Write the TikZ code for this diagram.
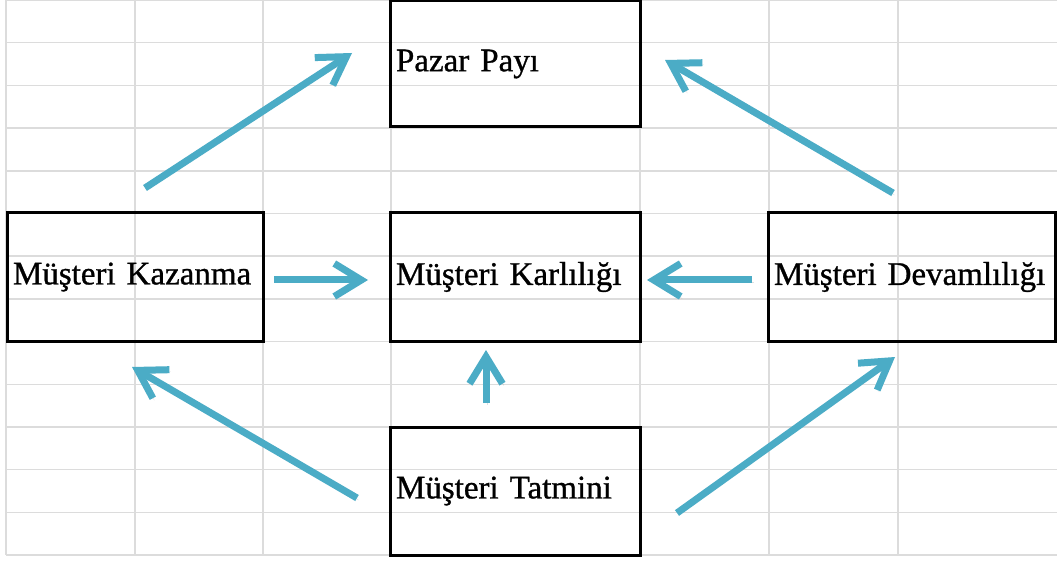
\documentclass[tikz,border=0pt]{standalone}
\usepackage{fontspec}
\newfontfamily\cellfont{Liberation Serif}[FakeBold=0.9]
\usetikzlibrary{arrows.meta}
\definecolor{SheetAqua}{HTML}{4BACC6}
\definecolor{SheetGrid}{HTML}{DCDCDC}

\begin{document}
\begin{tikzpicture}[x=1pt, y=-1pt,
    cell/.style={draw, line width=3pt, minimum height=128pt, inner xsep=6pt,
        text width=#1, align=left, font=\cellfont\fontsize{33}{38}\selectfont},
    flow/.style={draw=SheetAqua, line width=7pt,
        -{Straight Barb[length=27pt, width=33pt, line cap=butt, line join=miter]},
        preaction={draw=black, opacity=0.12, transform canvas={shift={(1.5pt,-2pt)}}}}]
    % Sheet background
    \fill[white] (0,0) rectangle (1057,561);
    \useasboundingbox (0,0) rectangle (1057,561);

    % Grid
    \foreach \i in {0,...,13}
        \draw[SheetGrid, line width=1.5pt] (6,{\i*42.7}) -- (1057,{\i*42.7});
    \foreach \x in {6,135,263,391,640,769,898}
        \draw[SheetGrid, line width=1.5pt] (\x,0) -- (\x,555);

    % Boxes
    \node[cell=238pt, minimum height=126pt] (pazar) at (515,64) {Pazar Payı};
    \node[cell=244pt] (kazanma) at (135,277) {Müşteri Kazanma};
    \node[cell=238pt] (karlilik) at (515,277) {Müşteri Karlılığı};
    \node[cell=275pt] (devam) at (911.5,277) {Müşteri Devamlılığı};
    \node[cell=238pt] (tatmin) at (515,491) {Müşteri Tatmini};

    % Free arrow ends
    \coordinate (kazUp) at (145,188);
    \coordinate (pazarLeft) at (352,53);
    \coordinate (devUp) at (893,193);
    \coordinate (pazarRight) at (665,60);
    \coordinate (tatLeft) at (357,498);
    \coordinate (kazDown) at (132,367);
    \coordinate (tatRight) at (677,513);
    \coordinate (devDown) at (895,357);

    % Arrows
    \draw[flow] (kazUp) -- (pazarLeft);
    \draw[flow] (devUp) -- (pazarRight);
    \draw[flow, shorten <=9.5pt, shorten >=20.5pt] ([yshift=-3pt]kazanma.east) -- ([yshift=-3pt]karlilik.west);
    \draw[flow, shorten <=14.5pt, shorten >=5.5pt] ([yshift=-3pt]devam.west) -- ([yshift=-3pt]karlilik.east);
    \draw[flow, shorten <=22.5pt, shorten >=7.5pt] ([xshift=-29pt]tatmin.north) -- ([xshift=-29pt]karlilik.south);
    \draw[flow] (tatLeft) -- (kazDown);
    \draw[flow] (tatRight) -- (devDown);
\end{tikzpicture}
\end{document}
